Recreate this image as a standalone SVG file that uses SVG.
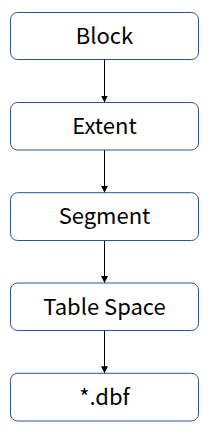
<svg xmlns="http://www.w3.org/2000/svg" width="216" height="442" viewBox="0 0 216 442">
<style>
.box{fill:#fff;stroke:#2F528F;stroke-width:1}
.lbl{font-family:"Noto Sans CJK KR","Open Sans",sans-serif;font-size:22px;font-weight:400;fill:#000;text-anchor:middle}
.con{stroke:#000;stroke-width:1;fill:none}
</style>
<defs>
<marker id="ah" markerWidth="8" markerHeight="7" refX="7" refY="3.5" orient="auto" markerUnits="userSpaceOnUse">
<path d="M0,0 L7,3.5 L0,7 z" fill="#000"/>
</marker>
</defs>
<rect width="216" height="442" fill="#fff"/>
<g id="connectors">
<line class="con" x1="104.5" y1="59.5" x2="104.5" y2="102.5" marker-end="url(#ah)"/>
<line class="con" x1="104.5" y1="150" x2="104.5" y2="192.7" marker-end="url(#ah)"/>
<line class="con" x1="104.5" y1="240.5" x2="104.5" y2="283" marker-end="url(#ah)"/>
<line class="con" x1="104.5" y1="330.5" x2="104.5" y2="373.3" marker-end="url(#ah)"/>
</g>
<g id="block"><rect class="box" x="10.5" y="12.5" width="188" height="47" rx="7"/><text class="lbl" x="104.5" y="44">Block</text></g>
<g id="extent"><rect class="box" x="10.5" y="102.5" width="188" height="47.5" rx="7"/><text class="lbl" x="104.5" y="134">Extent</text></g>
<g id="segment"><rect class="box" x="10.5" y="192.7" width="188" height="47.8" rx="7"/><text class="lbl" x="104.5" y="224">Segment</text></g>
<g id="tablespace"><rect class="box" x="10.5" y="283" width="188" height="47.5" rx="7"/><text class="lbl" x="104.5" y="314.5">Table Space</text></g>
<g id="dbf"><rect class="box" x="10.5" y="373.3" width="188" height="47.7" rx="7"/><text class="lbl" x="104.5" y="405">*.dbf</text></g>
</svg>
